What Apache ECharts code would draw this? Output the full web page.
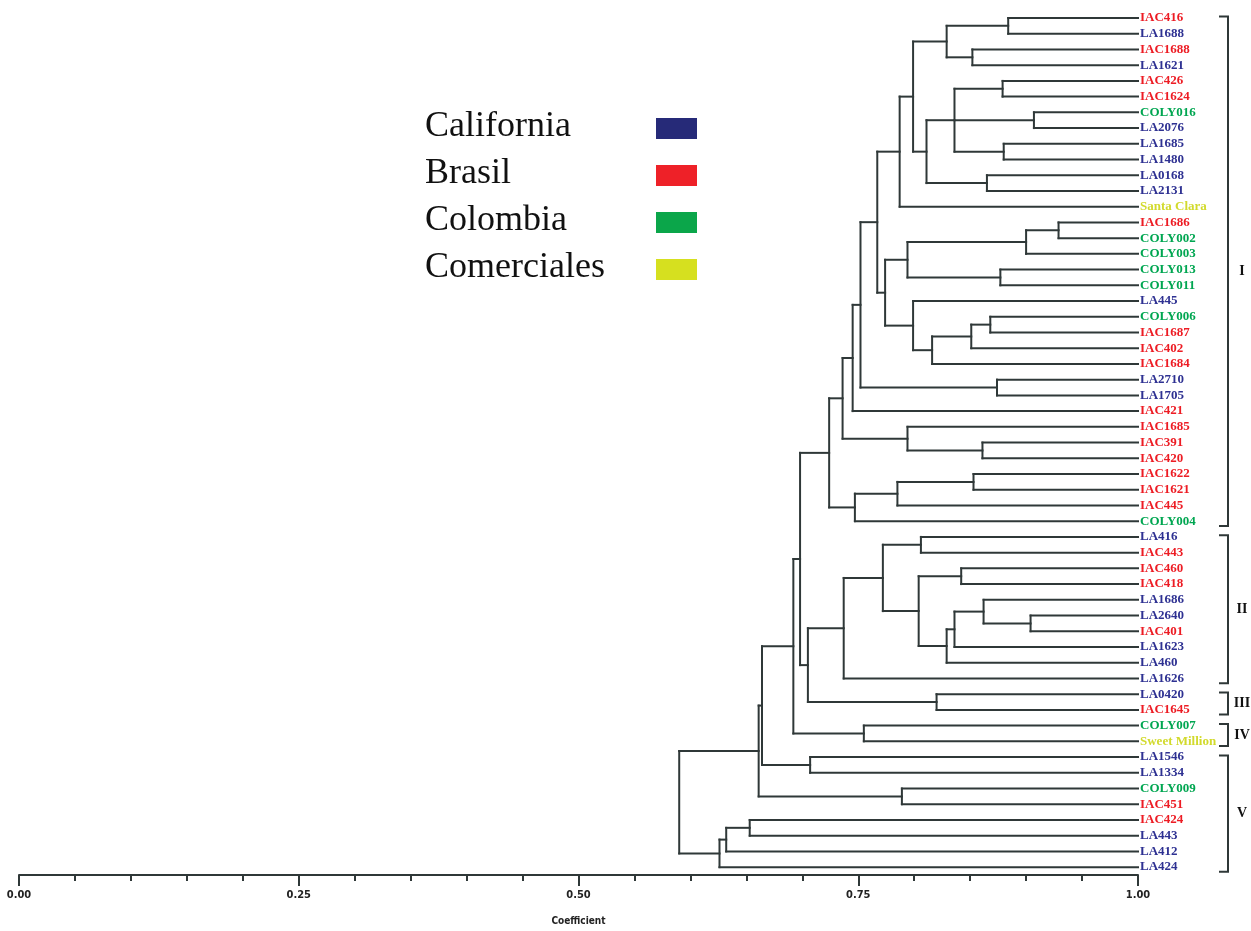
<!DOCTYPE html>
<html>
<head>
<meta charset="utf-8">
<script src="https://cdn.jsdelivr.net/npm/echarts@6.0.0/dist/echarts.min.js"></script>
<style>
  html, body { margin: 0; padding: 0; background: #fff; }
  #dendro { width: 1251px; height: 931px; }
</style>
</head>
<body>
<div id="dendro"></div>
<script>
  // leaves, top to bottom
  var leaves = [
    'IAC416', 'LA1688', 'IAC1688', 'LA1621', 'IAC426', 'IAC1624', 'COLY016', 'LA2076',
    'LA1685', 'LA1480', 'LA0168', 'LA2131', 'Santa Clara', 'IAC1686', 'COLY002', 'COLY003',
    'COLY013', 'COLY011', 'LA445', 'COLY006', 'IAC1687', 'IAC402', 'IAC1684', 'LA2710',
    'LA1705', 'IAC421', 'IAC1685', 'IAC391', 'IAC420', 'IAC1622', 'IAC1621', 'IAC445',
    'COLY004', 'LA416', 'IAC443', 'IAC460', 'IAC418', 'LA1686', 'LA2640', 'IAC401',
    'LA1623', 'LA460', 'LA1626', 'LA0420', 'IAC1645', 'COLY007', 'Sweet Million', 'LA1546',
    'LA1334', 'COLY009', 'IAC451', 'IAC424', 'LA443', 'LA412', 'LA424'
  ]
  // 0 California, 1 Brasil, 2 Colombia, 3 Comerciales
  var leafOrigin = [
    1, 0, 1, 0, 1, 1, 2, 0,
    0, 0, 0, 0, 3, 1, 2, 2,
    2, 2, 0, 2, 1, 1, 1, 0,
    0, 1, 1, 1, 1, 1, 1, 1,
    2, 0, 1, 1, 1, 0, 0, 1,
    0, 0, 0, 0, 1, 2, 3, 0,
    0, 2, 1, 1, 0, 0, 0
  ]
  var origins = ['California', 'Brasil', 'Colombia', 'Comerciales']
  var originColors = ['#2e3192', '#ed1c24', '#00a651', '#d2da2c']
  var legendColors = ['#262a78', '#ee2128', '#0ba64a', '#d6e01f']

  // merges: [coefficient, child, child, ...]; strings are leaves, numbers are earlier merges
  var merges = [
    [0.884, 'IAC416', 'LA1688'],      // 0
    [0.852, 'IAC1688', 'LA1621'],     // 1
    [0.829, 0, 1],                    // 2
    [0.879, 'IAC426', 'IAC1624'],     // 3
    [0.907, 'COLY016', 'LA2076'],     // 4
    [0.880, 'LA1685', 'LA1480'],      // 5
    [0.836, 3, 4, 5],                 // 6
    [0.865, 'LA0168', 'LA2131'],      // 7
    [0.811, 6, 7],                    // 8
    [0.799, 2, 8],                    // 9
    [0.787, 9, 'Santa Clara'],        // 10
    [0.929, 'IAC1686', 'COLY002'],    // 11
    [0.900, 11, 'COLY003'],           // 12
    [0.877, 'COLY013', 'COLY011'],    // 13
    [0.794, 12, 13],                  // 14
    [0.868, 'COLY006', 'IAC1687'],    // 15
    [0.851, 15, 'IAC402'],            // 16
    [0.816, 16, 'IAC1684'],           // 17
    [0.799, 'LA445', 17],             // 18
    [0.774, 14, 18],                  // 19
    [0.767, 10, 19],                  // 20
    [0.874, 'LA2710', 'LA1705'],      // 21
    [0.752, 20, 21],                  // 22
    [0.745, 22, 'IAC421'],            // 23
    [0.861, 'IAC391', 'IAC420'],      // 24
    [0.794, 'IAC1685', 24],           // 25
    [0.736, 23, 25],                  // 26
    [0.853, 'IAC1622', 'IAC1621'],    // 27
    [0.785, 27, 'IAC445'],            // 28
    [0.747, 28, 'COLY004'],           // 29
    [0.724, 26, 29],                  // 30
    [0.806, 'LA416', 'IAC443'],       // 31
    [0.842, 'IAC460', 'IAC418'],      // 32
    [0.904, 'LA2640', 'IAC401'],      // 33
    [0.862, 'LA1686', 33],            // 34
    [0.836, 34, 'LA1623'],            // 35
    [0.829, 35, 'LA460'],             // 36
    [0.804, 32, 36],                  // 37
    [0.772, 31, 37],                  // 38
    [0.737, 38, 'LA1626'],            // 39
    [0.820, 'LA0420', 'IAC1645'],     // 40
    [0.705, 39, 40],                  // 41
    [0.698, 30, 41],                  // 42
    [0.755, 'COLY007', 'Sweet Million'], // 43
    [0.692, 42, 43],                  // 44
    [0.707, 'LA1546', 'LA1334'],      // 45
    [0.664, 44, 45],                  // 46
    [0.789, 'COLY009', 'IAC451'],     // 47
    [0.661, 46, 47],                  // 48
    [0.653, 'IAC424', 'LA443'],       // 49
    [0.632, 49, 'LA412'],             // 50
    [0.626, 50, 'LA424'],             // 51
    [0.590, 48, 51]                   // 52
  ]

  var groupNames = ['I', 'II', 'III', 'IV', 'V']
  var groupFirst = ['IAC416', 'LA416', 'LA0420', 'COLY007', 'LA1546']
  var groupLast = ['COLY004', 'LA1626', 'IAC1645', 'Sweet Million', 'LA424']

  // build the tree segments (leaves sit at coefficient 1.00)
  var nodeY = []
  function pos (ref) {
    if (typeof ref === 'string') return [1, leaves.indexOf(ref)]
    return [merges[ref][0], nodeY[ref]]
  }
  var segments = []
  merges.forEach(function (m, i) {
    var h = m[0]
    var kids = m.slice(1).map(pos)
    var y0 = kids[0][1]
    var y1 = kids[kids.length - 1][1]
    nodeY[i] = (y0 + y1) / 2
    kids.forEach(function (k) { segments.push([k[0], k[1], h, k[1]]) })
    segments.push([h, y0, h, y1])
  })

  var groupData = groupNames.map(function (g, i) {
    return [leaves.indexOf(groupFirst[i]), leaves.indexOf(groupLast[i]), i]
  })

  var rich = {}
  originColors.forEach(function (c, i) {
    rich['c' + i] = {
      color: c,
      fontFamily: '"Liberation Serif", "Times New Roman", serif',
      fontWeight: 'bold',
      fontSize: 13
    }
  })

  var lineColor = '#2f3838'

  var option = {
    backgroundColor: '#fff',
    animation: false,
    grid: { left: 19, right: 113, top: 18, bottom: 46 },
    xAxis: {
      type: 'value',
      min: 0,
      max: 1,
      interval: 0.25,
      name: 'Coefficient',
      nameLocation: 'middle',
      nameGap: 41,
      nameTextStyle: {
        fontFamily: '"Liberation Sans Narrow", "DejaVu Sans Condensed", sans-serif',
        fontWeight: 'bold',
        fontSize: 10,
        color: '#222'
      },
      axisLine: { onZero: false, lineStyle: { color: lineColor, width: 2 } },
      axisTick: { length: 11, lineStyle: { color: lineColor, width: 2 } },
      minorTick: { show: true, splitNumber: 5, length: 6, lineStyle: { color: lineColor, width: 2 } },
      splitLine: { show: false },
      axisLabel: {
        margin: 15,
        formatter: function (v) { return v.toFixed(2) },
        fontFamily: '"Liberation Sans Narrow", "DejaVu Sans Condensed", sans-serif',
        fontWeight: 'bold',
        fontSize: 11,
        color: '#222'
      }
    },
    yAxis: {
      type: 'value',
      position: 'right',
      inverse: true,
      min: 0,
      max: 54.5,
      interval: 1,
      axisLine: { show: false, onZero: false },
      axisTick: { show: false },
      splitLine: { show: false },
      axisLabel: {
        margin: 2,
        showMaxLabel: false,
        formatter: function (v) {
          var i = Math.round(v)
          if (Math.abs(v - i) > 1e-6 || !leaves[i]) return ''
          return '{c' + leafOrigin[i] + '|' + leaves[i] + '}'
        },
        rich: rich
      }
    },
    graphic: origins.map(function (name, i) {
      return {
        type: 'group',
        children: [
          {
            type: 'text',
            x: 425,
            y: 127 + i * 46.8,
            style: {
              text: name,
              font: '36px "Liberation Serif", "Times New Roman", serif',
              fill: '#111',
              verticalAlign: 'middle'
            }
          },
          {
            type: 'rect',
            shape: { x: 656, y: 118 + i * 47, width: 41, height: 21 },
            style: { fill: legendColors[i] }
          }
        ]
      }
    }),
    series: [
      {
        type: 'custom',
        name: 'tree',
        coordinateSystem: 'cartesian2d',
        clip: false,
        encode: { x: [0, 2], y: [1, 3] },
        data: segments,
        renderItem: function (params, api) {
          var p1 = api.coord([api.value(0), api.value(1)])
          var p2 = api.coord([api.value(2), api.value(3)])
          return {
            type: 'line',
            shape: { x1: p1[0], y1: p1[1], x2: p2[0], y2: p2[1] },
            style: { stroke: lineColor, lineWidth: 2, lineCap: 'square' }
          }
        }
      },
      {
        type: 'custom',
        name: 'groups',
        coordinateSystem: 'cartesian2d',
        clip: false,
        encode: { y: [0, 1] },
        data: groupData,
        renderItem: function (params, api) {
          var top = api.coord([1, api.value(0) - 0.1])
          var bot = api.coord([1, api.value(1) + 0.3])
          var x = top[0]
          return {
            type: 'group',
            children: [
              {
                type: 'polyline',
                shape: { points: [[x + 81, top[1]], [x + 90, top[1]], [x + 90, bot[1]], [x + 81, bot[1]]] },
                style: { stroke: lineColor, lineWidth: 2, fill: null }
              },
              {
                type: 'text',
                style: {
                  text: groupNames[api.value(2)],
                  x: x + 104,
                  y: (top[1] + bot[1]) / 2,
                  align: 'center',
                  verticalAlign: 'middle',
                  font: 'bold 14px "Liberation Serif", "Times New Roman", serif',
                  fill: '#111'
                }
              }
            ]
          }
        }
      }
    ]
  }

  var chart = echarts.init(document.getElementById('dendro'))
  chart.setOption(option)
</script>
</body>
</html>
